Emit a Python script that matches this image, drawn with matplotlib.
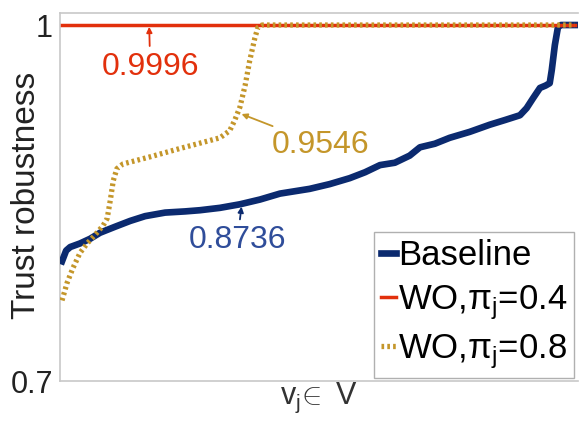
import matplotlib.pyplot as plt

plt.rcParams["font.family"] = ["Liberation Sans", "DejaVu Sans"]
plt.rcParams["mathtext.fontset"] = "custom"
plt.rcParams["mathtext.rm"] = "Liberation Sans"
plt.rcParams["mathtext.it"] = "Liberation Sans"
plt.rcParams["mathtext.sf"] = "Liberation Sans"

# indices des noeuds (axe x) et robustesse
x_base = [0, 0.8, 1.6, 3.5, 5.5, 7.4, 10.3, 13.3, 16.2, 20.1, 24.0, 26.9, 30.8, 34.7,
          38.6, 42.5, 45.4, 48.3, 52.2, 56.1, 59.1, 62.0, 64.9, 67.8, 69.8, 72.7,
          75.6, 79.5, 83.4, 86.4, 89.3, 90.6, 91.8, 93.2, 94.3, 95.1, 95.5, 96.1,
          96.7, 97.3, 100]
y_base = [0.801, 0.810, 0.813, 0.816, 0.820, 0.825, 0.830, 0.835, 0.839, 0.842,
          0.843, 0.844, 0.846, 0.849, 0.853, 0.858, 0.860, 0.862, 0.866, 0.871,
          0.876, 0.882, 0.884, 0.890, 0.897, 0.900, 0.905, 0.910, 0.916, 0.920,
          0.924, 0.930, 0.938, 0.947, 0.949, 0.951, 0.962, 0.983, 0.998, 1.0, 1.0]

x_wo4 = [0, 100]
y_wo4 = [0.9996, 0.9996]

x_wo8 = [0, 1, 2.1, 3.5, 4.9, 6.4, 8.0, 8.8, 9.4, 10.0, 10.7, 11.9, 17.2, 23.0,
         30.8, 32.7, 33.7, 34.7, 35.7, 36.6, 37.6, 38.2, 39, 100]
y_wo8 = [0.768, 0.783, 0.795, 0.808, 0.816, 0.823, 0.831, 0.837, 0.852, 0.869,
         0.879, 0.883, 0.889, 0.896, 0.905, 0.911, 0.920, 0.931, 0.949, 0.970,
         0.989, 0.998, 1.0, 1.0]

c_base = "#0b2a6f"
c_wo4 = "#e2300c"
c_wo8 = "#c4962a"

fig = plt.figure(figsize=(5.8, 4.24), dpi=100)
ax = fig.add_axes([0.1034, 0.101, 0.893, 0.868])

ax.plot(x_base, y_base, color=c_base, lw=4.8, label="Baseline", zorder=3)
ax.plot(x_wo4, y_wo4, color=c_wo4, lw=2.5, label=r"WO,$\pi_{\rm j}$=0.4", zorder=4)
ax.plot(x_wo8, y_wo8, color=c_wo8, lw=3.8, ls=(0, (0.5, 0.6)),
        label=r"WO,$\pi_{\rm j}$=0.8", zorder=5)

ax.set_xlim(-0.4, 100.6)
ax.set_ylim(0.7, 1.01)
ax.set_xticks([])
ax.set_yticks([0.7, 1])
ax.set_yticklabels(["0.7", "1"])
ax.tick_params(axis="y", length=0, labelsize=22, labelcolor="#222222", pad=5)

for s in ["left", "bottom", "top"]:
    ax.spines[s].set_color("#c8c8c8")
    ax.spines[s].set_linewidth(1.2)
ax.spines["right"].set_visible(False)

ax.set_ylabel("Trust robustness", fontsize=24, color="#222222")
ax.yaxis.set_label_coords(-0.035, 0.505)
ax.set_xlabel(r"v$_{\rm j}\!\in$ V", fontsize=22, color="#333333", labelpad=0)

# annotations des moyennes
ap = dict(arrowstyle="-|>", lw=1.3, mutation_scale=8)
ax.annotate("0.9996", xy=(17, 0.9985), xytext=(17.2, 0.965), fontsize=23,
            color=c_wo4, ha="center", va="center",
            arrowprops=dict(ap, color=c_wo4, shrinkA=2, shrinkB=0))
ax.annotate("0.9546", xy=(35, 0.925), xytext=(50.5, 0.899), fontsize=23,
            color=c_wo8, ha="center", va="center",
            arrowprops=dict(ap, color=c_wo8, shrinkA=2, shrinkB=0))
ax.annotate("0.8736", xy=(35, 0.847), xytext=(34.2, 0.819), fontsize=23,
            color="#2f4d9a", ha="center", va="center",
            arrowprops=dict(ap, color=c_base, shrinkA=2, shrinkB=0))

leg = ax.legend(loc="lower right", fontsize=25, handlelength=0.45,
                handletextpad=0.05, borderpad=0.2, labelspacing=0.3,
                fancybox=False, framealpha=1, borderaxespad=0.1)
leg.get_frame().set_edgecolor("#b0b0b0")

plt.savefig("out.png")
